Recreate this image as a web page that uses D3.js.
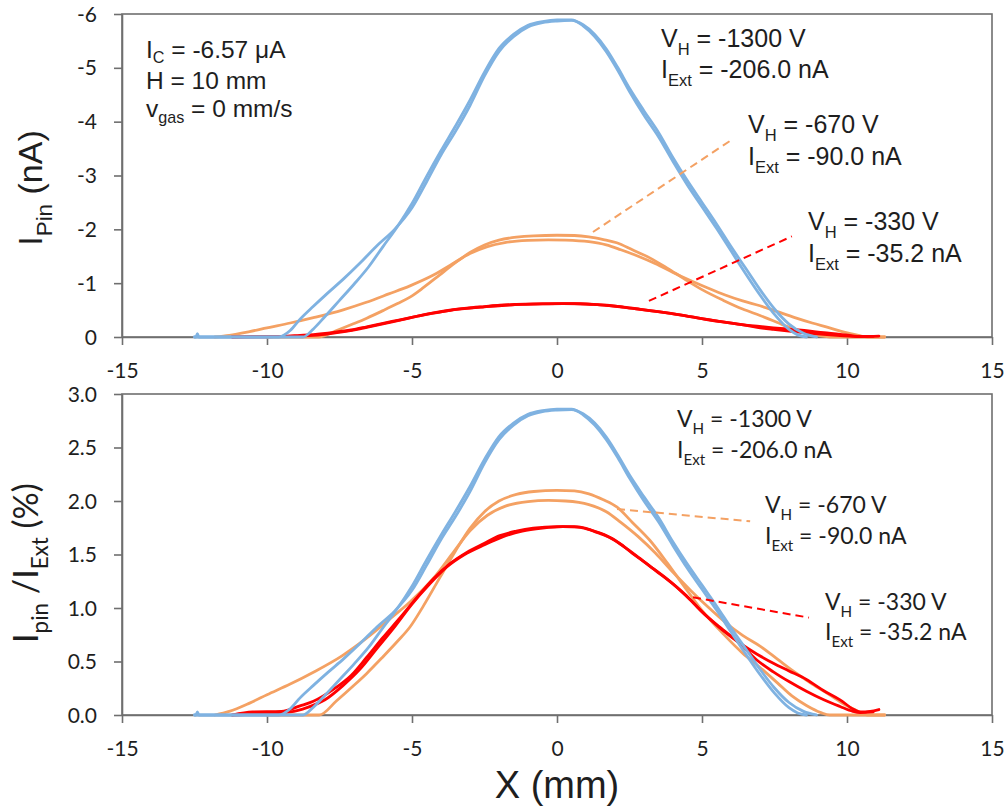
<!DOCTYPE html>
<html>
<head>
<meta charset="utf-8">
<script src="https://cdn.jsdelivr.net/npm/d3@7"></script>
<style>
  body { margin: 0; background: #fff; }
  text { white-space: pre; }
</style>
</head>
<body>
<svg id="chart" width="1007" height="809"></svg>
<script>
// ---- axis ticks ----
const xTicks = [-15, -10, -5, 0, 5, 10, 15];
const ipinTicks = [-6, -5, -4, -3, -2, -1, 0];
const ratioTicks = [0, 0.5, 1, 1.5, 2, 2.5, 3];

// ---- run settings: head voltage (V), extracted current (nA) ----
const headVoltages = [-1300, -670, -330];
const extCurrents = [-206.0, -90.0, -35.2];
const seriesColors = ["#7fb2e1", "#f4a163", "#ff0000"];

// ---- pin current scans: [x (mm), I_pin (nA)] ----
const scan1300a = [[-12.5,0],[-12.45,0],[-12.4,-0.06],[-12.35,0],[-11,0],[-10,0],[-9.6,0],[-9.2,-0.12],[-8.86,-0.33],[-8.4,-0.57],[-7.9,-0.82],[-7.36,-1.08],[-6.8,-1.37],[-6.2,-1.7],[-5.6,-2.0],[-5.0,-2.4],[-4.5,-2.88],[-4.0,-3.38],[-3.5,-3.82],[-3.0,-4.3],[-2.5,-4.85],[-2.0,-5.3],[-1.5,-5.58],[-1.0,-5.76],[-0.5,-5.84],[0,-5.87],[0.5,-5.88],[0.9,-5.8],[1.3,-5.62],[1.7,-5.35],[2.1,-5.0],[2.5,-4.62],[3.0,-4.2],[3.5,-3.8],[4.0,-3.33],[4.5,-2.9],[5.0,-2.5],[5.5,-2.1],[6.0,-1.68],[6.5,-1.28],[7.0,-0.88],[7.5,-0.52],[8.0,-0.24],[8.5,-0.07],[8.95,0]];
const scan1300b = [[-12.5,0],[-10,0],[-8.76,0],[-8.4,-0.15],[-8.0,-0.38],[-7.5,-0.68],[-7.0,-0.98],[-6.5,-1.3],[-6.0,-1.68],[-5.53,-2.03],[-5.0,-2.48],[-4.5,-2.98],[-4.0,-3.46],[-3.5,-3.92],[-3.0,-4.4],[-2.5,-4.92],[-2.0,-5.36],[-1.5,-5.62],[-1.0,-5.79],[-0.5,-5.86],[0,-5.89],[0.5,-5.89],[0.9,-5.78],[1.3,-5.58],[1.7,-5.3],[2.1,-4.95],[2.5,-4.56],[3.0,-4.12],[3.5,-3.72],[4.0,-3.26],[4.5,-2.82],[5.0,-2.42],[5.5,-2.02],[6.0,-1.6],[6.5,-1.18],[7.0,-0.78],[7.5,-0.42],[8.0,-0.14],[8.3,-0.04],[8.6,0]];
const scan670a = [[-11.8,0],[-11.3,-0.03],[-10.6,-0.1],[-10,-0.17],[-9.2,-0.26],[-8.4,-0.36],[-7.4,-0.5],[-6.6,-0.64],[-5.8,-0.8],[-5.07,-0.95],[-4.26,-1.15],[-3.6,-1.36],[-3.0,-1.55],[-2.4,-1.68],[-1.8,-1.755],[-1.0,-1.795],[-0.3,-1.805],[0.3,-1.8],[1.1,-1.77],[1.7,-1.71],[2.2,-1.62],[2.8,-1.5],[3.4,-1.36],[4.0,-1.2],[4.6,-1.05],[5.2,-0.91],[5.8,-0.78],[6.4,-0.67],[7.0,-0.58],[7.6,-0.47],[8.2,-0.36],[8.8,-0.26],[9.4,-0.17],[9.9,-0.09],[10.4,-0.03],[10.7,0],[11.3,0]];
const scan670b = [[-10,0],[-8.2,0],[-7.6,-0.12],[-7.0,-0.25],[-6.56,-0.35],[-6.0,-0.49],[-5.5,-0.62],[-5.07,-0.74],[-4.6,-0.92],[-4.03,-1.16],[-3.5,-1.38],[-3.0,-1.57],[-2.5,-1.71],[-2.0,-1.8],[-1.4,-1.855],[-0.8,-1.88],[0,-1.89],[0.6,-1.885],[1.1,-1.86],[1.6,-1.81],[2.06,-1.75],[2.6,-1.62],[3.2,-1.47],[3.8,-1.28],[4.36,-1.09],[5.0,-0.88],[5.74,-0.68],[6.4,-0.52],[7.0,-0.4],[7.6,-0.27],[8.1,-0.16],[8.6,-0.08],[9.1,-0.02],[9.4,0],[10.6,0],[11.3,0]];
const scan330a = [[-11.2,0],[-10.5,-0.01],[-9.5,-0.012],[-8.86,-0.03],[-8.4,-0.045],[-7.7,-0.085],[-7.1,-0.13],[-6.56,-0.19],[-6.0,-0.255],[-5.41,-0.32],[-4.8,-0.39],[-4.26,-0.448],[-3.7,-0.497],[-3.11,-0.535],[-2.5,-0.565],[-1.97,-0.59],[-1.4,-0.605],[-0.82,-0.615],[0,-0.62],[0.6,-0.62],[1.2,-0.607],[1.71,-0.59],[2.3,-0.555],[2.86,-0.515],[3.4,-0.475],[4.01,-0.43],[4.6,-0.378],[5.16,-0.325],[5.7,-0.28],[6.31,-0.236],[6.9,-0.2],[7.46,-0.17],[8.0,-0.145],[8.6,-0.117],[9.2,-0.08],[9.76,-0.05],[10.2,-0.02],[10.45,-0.01],[10.8,-0.012],[11.1,-0.018]];
const scan330b = [[-11.2,0],[-10,-0.005],[-9.2,-0.01],[-8.6,-0.025],[-8.0,-0.05],[-7.4,-0.095],[-6.8,-0.15],[-6.2,-0.22],[-5.6,-0.29],[-5.0,-0.365],[-4.4,-0.43],[-3.8,-0.487],[-3.2,-0.527],[-2.5,-0.56],[-1.9,-0.585],[-1.2,-0.605],[-0.5,-0.615],[0.2,-0.62],[0.8,-0.618],[1.4,-0.6],[2.0,-0.575],[2.6,-0.532],[3.2,-0.49],[3.8,-0.447],[4.4,-0.398],[5.0,-0.34],[5.6,-0.29],[6.31,-0.235],[6.9,-0.18],[7.46,-0.142],[8.0,-0.11],[8.6,-0.078],[9.2,-0.05],[9.76,-0.028],[10.2,-0.012],[10.45,-0.008],[10.9,-0.01]];

// draw order: -670 V first, then -330 V, then -1300 V on top
const scans = [
  { run: 1, pts: scan670a }, { run: 1, pts: scan670b },
  { run: 2, pts: scan330a }, { run: 2, pts: scan330b },
  { run: 0, pts: scan1300a }, { run: 0, pts: scan1300b }
];

const svg = d3.select("#chart");
svg.append("rect").attr("width", 1007).attr("height", 809).attr("fill", "#fff");

const x = d3.scaleLinear().domain([-15, 15]).range([122, 992]);
const yTop = d3.scaleLinear().domain([0, -6]).range([337, 14]);
const yBot = d3.scaleLinear().domain([0, 3]).range([715, 394]);

const axisColor = "#6f6f6f";
const textColor = "#1e1e1e";
const tickFont = "Lato, 'Noto Sans', sans-serif";
const arial = "'Liberation Sans', Arial, sans-serif";

// text with subscript runs: parts are strings or {sub: "..."}
function richText(parent, px, py, parts, o) {
  const t = parent.append("text")
    .attr("x", px).attr("y", py)
    .attr("font-family", o.font).attr("font-size", o.size)
    .attr("fill", o.fill || textColor)
    .attr("text-anchor", o.anchor || "start");
  if (o.rotate) t.attr("transform", `rotate(-90 ${px} ${py})`);
  const drop = o.size * (o.drop || 0.3);
  let down = false;
  parts.forEach(p => {
    const isSub = typeof p !== "string";
    const ts = t.append("tspan").text(isSub ? p.sub : p);
    if (isSub) {
      ts.attr("font-size", o.size * (o.subScale || 0.66));
      if (!down) { ts.attr("dy", drop); down = true; }
    } else if (down) {
      ts.attr("dy", -drop); down = false;
    }
  });
  return t;
}

function drawPanel(y, yTicks, yFormat, valueOf) {
  const g = svg.append("g");
  const [y0, y1] = y.range();

  // plot frame
  g.append("rect")
    .attr("x", x.range()[0]).attr("y", y1)
    .attr("width", x.range()[1] - x.range()[0]).attr("height", y0 - y1)
    .attr("fill", "none").attr("stroke", axisColor).attr("stroke-width", 1.6);

  // x axis along zero
  const xa = g.append("g").attr("transform", `translate(0,${y(0)})`)
    .call(d3.axisBottom(x).tickValues(xTicks).tickSize(8).tickSizeOuter(0).tickFormat(d => String(d)));
  xa.selectAll("text").attr("dy", null).attr("y", 41)
    .attr("font-family", tickFont).attr("font-size", 21).attr("fill", textColor);

  const ya = g.append("g").attr("transform", `translate(${x.range()[0]},0)`)
    .call(d3.axisLeft(y).tickValues(yTicks).tickSize(8).tickSizeOuter(0).tickPadding(17).tickFormat(yFormat));
  ya.selectAll("text").attr("font-family", tickFont).attr("font-size", 21).attr("fill", textColor).attr("dy", "0.34em");

  [xa, ya].forEach(a => {
    a.selectAll("line").attr("stroke", axisColor).attr("stroke-width", 1.6);
    a.select(".domain").attr("stroke", axisColor).attr("stroke-width", 1.6);
  });

  const line = d3.line()
    .x(d => x(d[0]))
    .y(d => y(d[1]))
    .curve(d3.curveMonotoneX);

  scans.forEach(s => {
    g.append("path")
      .datum(s.pts.map(p => [p[0], valueOf(p[1], s.run)]))
      .attr("d", line)
      .attr("fill", "none")
      .attr("stroke", seriesColors[s.run])
      .attr("stroke-width", 2.8)
      .attr("stroke-linejoin", "round")
      .attr("stroke-linecap", "round");
  });
  return g;
}

// ---- upper panel: pin current ----
const panelCurrent = drawPanel(yTop, ipinTicks, d => String(d), (v) => v);

// ---- lower panel: pin current relative to extracted current (%) ----
const panelRatio = drawPanel(yBot, ratioTicks, d3.format(".1f"), (v, run) => v / extCurrents[run] * 100);

// leader lines
function leader(g, y, a, b, color) {
  g.append("line")
    .attr("x1", x(a[0])).attr("y1", y(a[1]))
    .attr("x2", x(b[0])).attr("y2", y(b[1]))
    .attr("stroke", color).attr("stroke-width", 2)
    .attr("stroke-dasharray", "8,5");
}
leader(panelCurrent, yTop, [1.24, -1.95], [6.07, -3.68], seriesColors[1]);
leader(panelCurrent, yTop, [3.17, -0.67], [8.1, -1.87], seriesColors[2]);
leader(panelRatio, yBot, [2.07, 1.925], [6.66, 1.81], seriesColors[1]);
leader(panelRatio, yBot, [4.69, 1.10], [8.69, 0.91], seriesColors[2]);

// ---- annotations ----
const fmtV = v => `${v} V`;
const fmtI = v => `${v.toFixed(1)} nA`;

const topLabelPos = [[661, 47, 78], [748, 133, 165], [808, 230, 262]];
const botLabelPos = [[677, 427, 458], [765, 513, 544], [825, 610, 640]];

headVoltages.forEach((hv, i) => {
  const [tx, ty1, ty2] = topLabelPos[i];
  richText(panelCurrent, tx, ty1, ["V", { sub: "H" }, ` = ${fmtV(hv)}`], { font: arial, size: 25 });
  richText(panelCurrent, tx, ty2, ["I", { sub: "Ext" }, ` = ${fmtI(extCurrents[i])}`], { font: arial, size: 25 });
  const [bx, by1, by2] = botLabelPos[i];
  richText(panelRatio, bx, by1, ["V", { sub: "H" }, ` = ${fmtV(hv)}`], { font: tickFont, size: 23 });
  richText(panelRatio, bx, by2, ["I", { sub: "Ext" }, ` = ${fmtI(extCurrents[i])}`], { font: tickFont, size: 23 });
});

richText(panelCurrent, 146, 58, ["I", { sub: "C" }, " = -6.57 μA"], { font: arial, size: 24.5, drop: 0.22 });
richText(panelCurrent, 146, 89, ["H = 10 mm"], { font: arial, size: 24.5 });
richText(panelCurrent, 146, 117, ["v", { sub: "gas" }, " = 0 mm/s"], { font: arial, size: 24.5, drop: 0.25 });

// axis titles
richText(svg, 42, 188, ["I", { sub: "Pin" }, " (nA)"], { font: arial, size: 34, anchor: "middle", rotate: true });
richText(svg, 38, 563, ["I", { sub: "pin" }, " /I", { sub: "Ext" }, " (%)"], { font: tickFont, size: 34, anchor: "middle", rotate: true });
richText(svg, 557, 798, ["X (mm)"], { font: arial, size: 38, anchor: "middle" });
</script>
</body>
</html>
